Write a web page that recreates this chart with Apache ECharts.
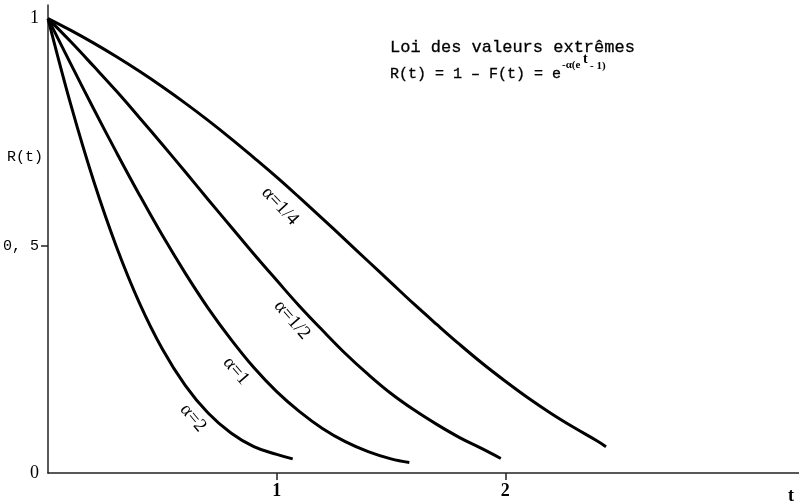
<!doctype html>
<html>
<head>
<meta charset="utf-8">
<title>Loi des valeurs extrêmes</title>
<script src="https://cdn.jsdelivr.net/npm/echarts@6/dist/echarts.min.js"></script>
<style>
	body { margin: 0; background: #fff; }
	#main { width: 799px; height: 504px; }
</style>
</head>
<body>
<div id="main"></div>
<script>
	// valeurs (t, R(t)) pour chaque courbe
	var t2 = [0, 0.1, 0.2, 0.3, 0.4, 0.5, 0.6, 0.7, 0.8, 0.9, 1.0, 1.07];
	var r2 = [1, 0.81, 0.642, 0.497, 0.374, 0.273, 0.193, 0.132, 0.088, 0.058, 0.041, 0.031];

	var t1 = [0, 0.1, 0.2, 0.3, 0.4, 0.5, 0.6, 0.7, 0.8, 0.9, 1.0, 1.1, 1.2, 1.3, 1.4, 1.5, 1.58];
	var r1 = [1, 0.900, 0.801, 0.705, 0.612, 0.523, 0.440, 0.363, 0.294, 0.232, 0.179, 0.135, 0.098, 0.069, 0.047, 0.031, 0.023];

	var tDemi = [0, 0.1, 0.2, 0.3, 0.4, 0.5, 0.6, 0.7, 0.8, 0.9, 1.0, 1.1, 1.2, 1.3, 1.4, 1.5, 1.6, 1.7, 1.8, 1.9, 1.98];
	var rDemi = [1, 0.949, 0.895, 0.840, 0.782, 0.723, 0.663, 0.602, 0.542, 0.482, 0.424, 0.367, 0.314, 0.263, 0.217, 0.175, 0.139, 0.107, 0.078, 0.053, 0.032];

	var tQuart = [0, 0.1, 0.2, 0.3, 0.4, 0.5, 0.6, 0.7, 0.8, 0.9, 1.0, 1.1, 1.2, 1.3, 1.4, 1.5, 1.6, 1.7, 1.8, 1.9, 2.0, 2.1, 2.2, 2.3, 2.4, 2.44];
	var rQuart = [1, 0.974, 0.946, 0.916, 0.884, 0.850, 0.814, 0.776, 0.736, 0.694, 0.651, 0.606, 0.560, 0.513, 0.466, 0.419, 0.372, 0.327, 0.283, 0.241, 0.202, 0.165, 0.131, 0.100, 0.071, 0.058];

	var xTicks = [1, 2];
	var yLabels = [0, 0.5, 1];
	var yNames = { 0: '{b|0}', 0.5: '{m|0, 5}', 1: '{b|1}' };

	function pairs(ts, rs) {
		var out = [];
		for (var i = 0; i < ts.length; i++) out.push([ts[i], rs[i]]);
		return out;
	}

	function courbe(name, ts, rs) {
		return {
			name: name,
			type: 'line',
			data: pairs(ts, rs),
			smooth: 0.4,
			showSymbol: false,
			silent: true,
			lineStyle: { color: '#000', width: 3 }
		};
	}

	var mono = 'Liberation Mono';
	var serif = 'Liberation Serif';

	var myChart = echarts.init(document.getElementById('main'));
	var option = {
		animation: false,
		backgroundColor: '#fff',
		grid: { left: 47, right: 0, top: 5, bottom: 31 },
		xAxis: {
			type: 'value',
			min: 0,
			max: 3.284,
			axisLine: { lineStyle: { color: '#222', width: 1.5 } },
			axisTick: { show: true, length: 7, inside: false, customValues: xTicks, lineStyle: { color: '#222', width: 1.5 } },
			axisLabel: { customValues: xTicks, color: '#000', fontFamily: serif, fontWeight: 'bold', fontSize: 18, margin: 9 },
			splitLine: { show: false }
		},
		yAxis: {
			type: 'value',
			min: 0,
			max: 1.03,
			axisLine: { show: true, lineStyle: { color: '#222', width: 1.5 } },
			axisTick: { show: true, length: 7, inside: false, customValues: [0.5], lineStyle: { color: '#222', width: 1.5 } },
			axisLabel: {
				customValues: yLabels,
				margin: 9,
				formatter: function (v) { return yNames[v] !== undefined ? yNames[v] : ''; },
				rich: {
					b: { color: '#000', fontFamily: serif, fontSize: 18 },
					m: { color: '#000', fontFamily: mono, fontSize: 15 }
				}
			},
			splitLine: { show: false }
		},
		series: [
			courbe('a=2', t2, r2),
			courbe('a=1', t1, r1),
			courbe('a=1/2', tDemi, rDemi),
			courbe('a=1/4', tQuart, rQuart)
		],
		graphic: [
			{ type: 'text', left: 7, top: 150, style: { text: 'R(t)', font: '15px "Liberation Mono"', fill: '#000' } },
			{ type: 'text', x: 791, y: 496, style: { text: 't', font: 'bold 18px "Liberation Serif"', fill: '#000', textAlign: 'center', textVerticalAlign: 'middle' } },
			// titre
			{ type: 'text', x: 390, y: 47, style: { text: 'Loi des valeurs extrêmes', font: '17px "Liberation Mono"', fill: '#000', stroke: '#000', lineWidth: 0.3, textVerticalAlign: 'middle' } },
			{ type: 'text', x: 390, y: 74, style: { text: 'R(t) = 1 – F(t) = e', font: '15px "Liberation Mono"', fill: '#000', stroke: '#000', lineWidth: 0.3, textVerticalAlign: 'middle' } },
			{ type: 'text', x: 562, y: 65, style: { text: '-α(e', font: 'bold 11px "Liberation Serif"', fill: '#000', textVerticalAlign: 'middle' } },
			{ type: 'text', x: 583, y: 59, style: { text: 't', font: 'bold 14px "Liberation Serif"', fill: '#000', textVerticalAlign: 'middle' } },
			{ type: 'text', x: 590, y: 66, style: { text: '- 1)', font: 'bold 11px "Liberation Serif"', fill: '#000', textVerticalAlign: 'middle' } },
			// noms des courbes
			{ type: 'text', x: 280, y: 206, rotation: -0.82, style: { text: 'α=1/4', font: '19px "Liberation Serif"', fill: '#000', textAlign: 'center', textVerticalAlign: 'middle' } },
			{ type: 'text', x: 292, y: 320, rotation: -0.86, style: { text: 'α=1/2', font: '19px "Liberation Serif"', fill: '#000', textAlign: 'center', textVerticalAlign: 'middle' } },
			{ type: 'text', x: 236, y: 371, rotation: -0.86, style: { text: 'α=1', font: '19px "Liberation Serif"', fill: '#000', textAlign: 'center', textVerticalAlign: 'middle' } },
			{ type: 'text', x: 193, y: 418, rotation: -0.88, style: { text: 'α=2', font: '19px "Liberation Serif"', fill: '#000', textAlign: 'center', textVerticalAlign: 'middle' } }
		]
	};
	myChart.setOption(option);
</script>
</body>
</html>
